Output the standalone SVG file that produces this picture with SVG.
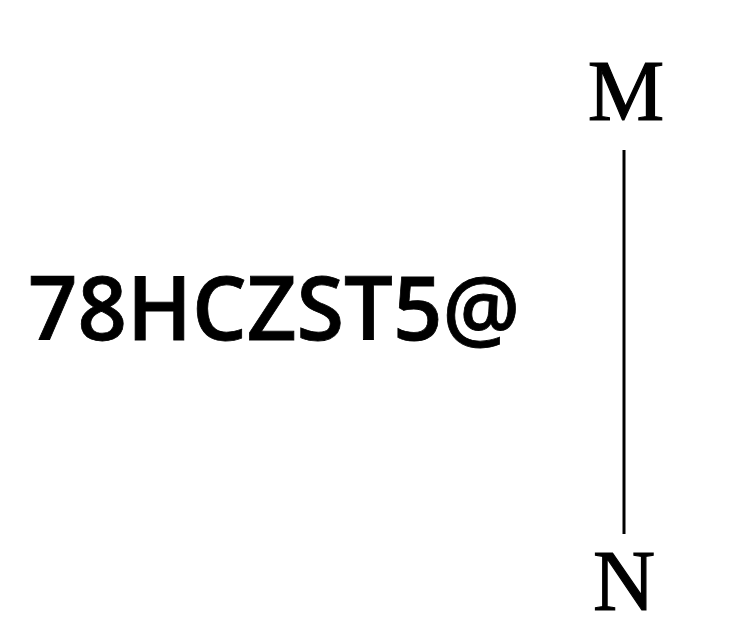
<svg xmlns="http://www.w3.org/2000/svg" width="748" height="640" viewBox="0 0 748 640">
<style>
.lbl{font-family:"Liberation Serif","Times New Roman",serif;font-size:86px;fill:#000;stroke:#000;stroke-width:1.2;text-anchor:middle}
.big{font-family:"Open Sans","Noto Sans",sans-serif;font-size:88px;font-weight:600;fill:#000;stroke:#000;stroke-width:0.8}
.conn{stroke:#000;stroke-width:3;fill:none}
</style>
<rect width="748" height="640" fill="#ffffff"/>
<g id="text-main"><text class="big" x="28" y="340" textLength="492" lengthAdjust="spacingAndGlyphs">78HCZST5@</text></g>
<g id="node-M"><text class="lbl" x="626" y="120">M</text></g>
<g id="node-N"><text class="lbl" x="624" y="610">N</text></g>
<g id="connectors"><line class="conn" x1="624" y1="150" x2="624" y2="534"/></g>
</svg>
